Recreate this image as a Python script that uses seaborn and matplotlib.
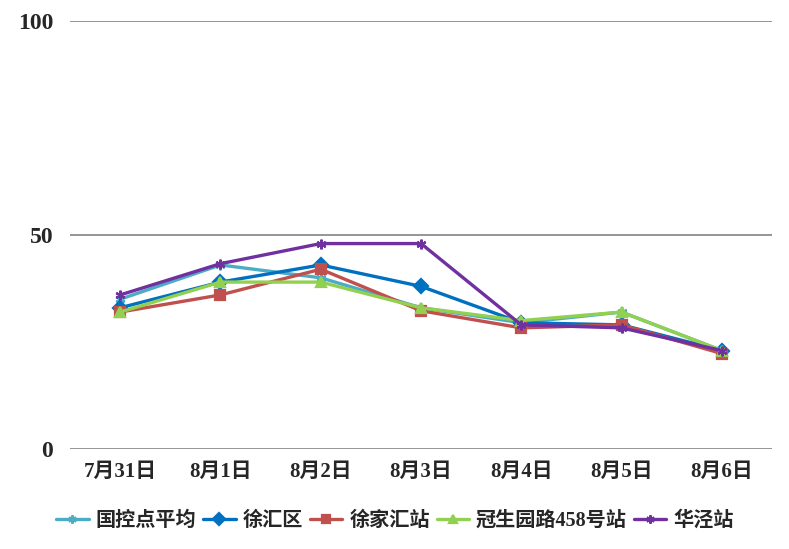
import pandas as pd
import matplotlib.pyplot as plt
import seaborn as sns

# 数据
dates = ['7月31日', '8月1日', '8月2日', '8月3日', '8月4日', '8月5日', '8月6日']
guokong = [35, 43, 40, 33, 29.5, 32, 23]
xuhui = [33, 39, 43, 38, 29.5, 29, 23]
xujiahui = [32, 36, 42, 32.3, 28.3, 29, 22.3]
guanshengyuan = [32, 39, 39, 33, 30, 32, 23]
huajing = [36, 43.3, 48, 48, 29, 28.3, 23]

series_names = ['国控点平均', '徐汇区', '徐家汇站', '冠生园路458号站', '华泾站']
series_vals = [guokong, xuhui, xujiahui, guanshengyuan, huajing]

colors = ['#4BACC6', '#0070C0', '#C0504D', '#92D050', '#7030A0']
star = (6, 2, 0)
markers = [star, 'D', 's', '^', star]

sns.set_style('white')
plt.rcParams['font.family'] = ['Liberation Serif', 'Noto Sans CJK SC']
plt.rcParams['font.weight'] = 'bold'

fig = plt.figure(figsize=(7.89, 5.49), dpi=100)
ax = fig.add_axes([70 / 789, 1 - 449 / 549, 702 / 789, 428 / 549])

x = list(range(len(dates)))
for name, vals, c, m in zip(series_names, series_vals, colors, markers):
    sns.lineplot(x=x, y=vals, color=c, marker=m, linewidth=2.4,
                 markersize=7, markeredgewidth=1.6, markeredgecolor=c,
                 label=name, ax=ax)

ax.set_ylim(0, 100)
ax.set_xlim(-0.5, len(dates) - 0.5)
ax.set_yticks([0, 50, 100])
ax.set_xticks(x)
ax.set_xticklabels(dates)
ax.yaxis.grid(True, color='#8C8C8C', linewidth=1.3)
ax.set_axisbelow(True)
for s in ax.spines.values():
    s.set_visible(False)
ax.tick_params(axis='both', length=0)
ax.tick_params(axis='y', pad=12, labelsize=17)
ax.tick_params(axis='x', pad=9, labelsize=15)
for lab in ax.get_xticklabels() + ax.get_yticklabels():
    lab.set_fontweight('bold')
ax.set_xlabel('')
ax.set_ylabel('')

handles, labels = ax.get_legend_handles_labels()
ax.legend(handles, labels, loc='center', bbox_to_anchor=(0.463, -0.168),
          ncol=5, frameon=False, handlelength=1.6, handletextpad=0.35,
          columnspacing=0.35, borderaxespad=0, markerscale=0.85,
          prop={'size': 14.5, 'weight': 'bold'})

fig.savefig('out.png', dpi=100)
